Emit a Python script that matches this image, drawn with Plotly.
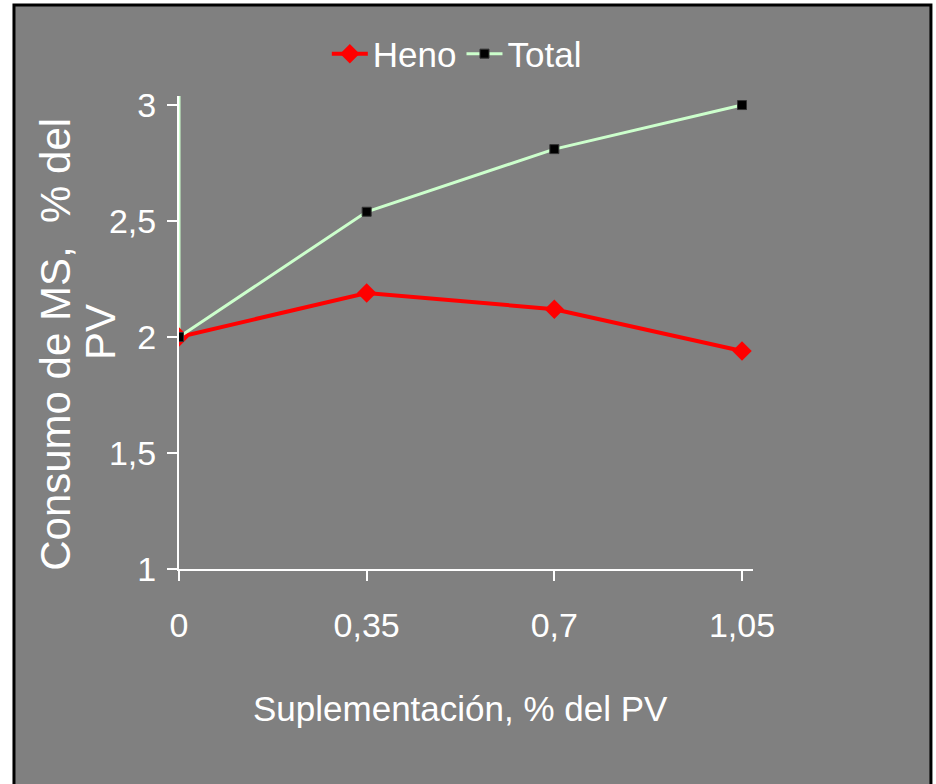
import plotly.graph_objects as go

# --------------------------
# Data
# --------------------------
suplementacion = [0, 0.35, 0.7, 1.05]
heno = [2.0, 2.19, 2.12, 1.94]
total = [2.0, 2.54, 2.81, 3.0]

x_ticks = [0, 0.35, 0.7, 1.05]
x_ticklabels = ["0", "0,35", "0,7", "1,05"]
y_ticks = [1, 1.5, 2, 2.5, 3]
y_ticklabels = ["1", "1,5", "2", "2,5", "3"]

# vertical stroke of the Total line drawn along the y axis in the original
total_stub_x = [0, 0]
total_stub_y = [2.0, 3.1]

FONT = "Liberation Sans, Arial, sans-serif"
GREEN = "#CCFFCC"
GRAY = "#808080"

fig = go.Figure()
fig.add_trace(go.Scatter(
    x=total_stub_x, y=total_stub_y, mode="lines",
    line=dict(color=GREEN, width=3), showlegend=False, hoverinfo="skip",
))
fig.add_trace(go.Scatter(
    x=suplementacion, y=heno, name="Heno", mode="lines+markers",
    line=dict(color="#FF0000", width=4),
    marker=dict(symbol="diamond", size=15, color="#FF0000"),
))
fig.add_trace(go.Scatter(
    x=suplementacion, y=total, name="Total", mode="lines+markers",
    line=dict(color=GREEN, width=3),
    marker=dict(symbol="square", size=9, color="black", line=dict(color="#333333", width=1)),
))

# frame: gray panel with black border on white page
fig.add_shape(
    type="rect", xref="paper", yref="paper", layer="below",
    x0=-0.2875, x1=1.310, y0=-0.6, y1=1.1924,
    fillcolor=GRAY, line=dict(color="black", width=3),
)

axis_common = dict(
    showgrid=False, zeroline=False, showline=True, linecolor="white", linewidth=2,
    ticks="outside", tickcolor="white", tickwidth=2, ticklen=10,
    tickfont=dict(family=FONT, size=34, color="white"),
)
fig.update_xaxes(
    range=[0, 1.0705], tickmode="array", tickvals=x_ticks, ticktext=x_ticklabels,
    ticklabelstandoff=15, **axis_common,
)
fig.update_yaxes(
    range=[1, 3.039], tickmode="array", tickvals=y_ticks, ticktext=y_ticklabels,
    ticklabelstandoff=4, **axis_common,
)

fig.add_annotation(
    text="Suplementación, % del PV", xref="paper", yref="paper",
    x=0.49, y=-0.294, xanchor="center", yanchor="middle", showarrow=False,
    font=dict(family=FONT, size=35, color="white"),
)
# y title, two lines placed separately to keep the tight line spacing
fig.add_annotation(
    text="Consumo de MS,  % del", xref="paper", yref="paper",
    x=(56 - 179) / 574, y=0.474, xanchor="center", yanchor="middle", showarrow=False,
    textangle=-90, font=dict(family=FONT, size=42, color="white"),
)
fig.add_annotation(
    text="PV", xref="paper", yref="paper",
    x=(100 - 179) / 574, y=0.501, xanchor="center", yanchor="middle", showarrow=False,
    textangle=-90, font=dict(family=FONT, size=42, color="white"),
)

fig.update_layout(
    width=936, height=784,
    paper_bgcolor="white", plot_bgcolor="rgba(0,0,0,0)",
    margin=dict(l=179, r=183, t=96, b=215),
    showlegend=True,
    legend=dict(
        orientation="h", x=0.484, y=1.089, xanchor="center", yanchor="middle",
        bgcolor="rgba(0,0,0,0)", font=dict(family=FONT, size=35, color="white"),
        itemwidth=36,
    ),
)

fig.write_html(
    "out.html",
    config={"displayModeBar": False},
    post_script="document.body.style.margin='0';document.body.style.overflow='hidden';",
)
